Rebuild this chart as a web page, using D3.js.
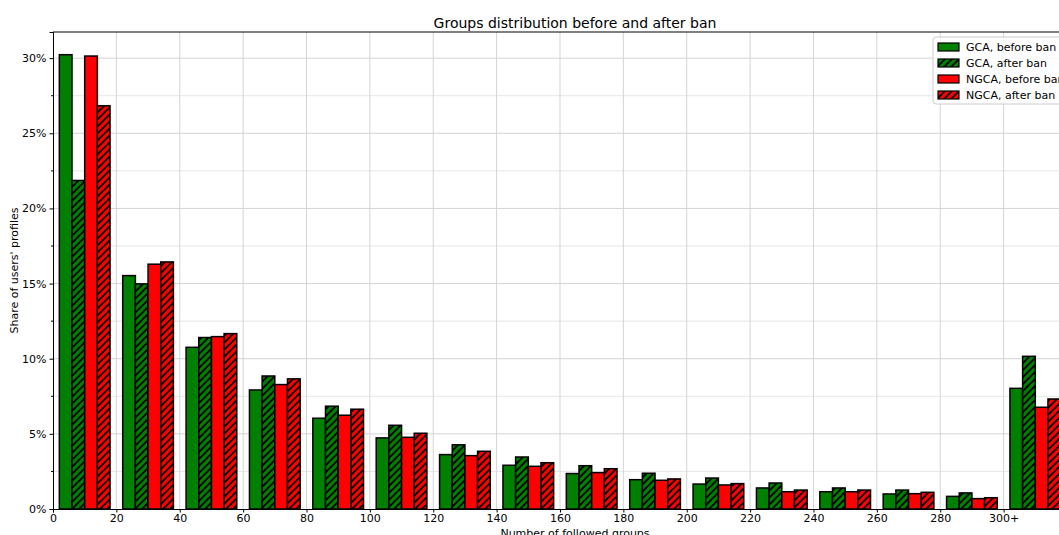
<!DOCTYPE html>
<html>
<head>
<meta charset="utf-8">
<script src="https://cdn.jsdelivr.net/npm/d3@7"></script>
<style>
  body { margin: 0; background: #fff; }
  svg { display: block; font-family: "DejaVu Sans", sans-serif; }
</style>
</head>
<body>
<div id="container"></div>
<script>
// bin starts (number of followed groups), last one is "300+"
const binStarts = [0, 20, 40, 60, 80, 100, 120, 140, 160, 180, 200, 220, 240, 260, 280, 300];
const tickLabels = ["0", "20", "40", "60", "80", "100", "120", "140", "160", "180", "200", "220", "240", "260", "280", "300+"];
const seriesNames = ["GCA, before ban", "GCA, after ban", "NGCA, before ban", "NGCA, after ban"];

// share of users' profiles, %
const gcaBefore = [30.23, 15.53, 10.76, 7.92, 6.04, 4.73, 3.62, 2.91, 2.36, 1.95, 1.66, 1.40, 1.15, 1.00, 0.84, 8.03];
const gcaAfter = [21.86, 14.98, 11.41, 8.85, 6.84, 5.57, 4.27, 3.46, 2.88, 2.38, 2.06, 1.73, 1.40, 1.26, 1.07, 10.16];
const ngcaBefore = [30.14, 16.29, 11.47, 8.28, 6.24, 4.77, 3.55, 2.84, 2.42, 1.91, 1.60, 1.15, 1.15, 1.02, 0.69, 6.77];
const ngcaAfter = [26.83, 16.44, 11.67, 8.66, 6.64, 5.04, 3.84, 3.08, 2.68, 2.00, 1.69, 1.26, 1.26, 1.11, 0.75, 7.32];

const series = [gcaBefore, gcaAfter, ngcaBefore, ngcaAfter];
const fills = ["#008000", "url(#hatchGreen)", "#ff0000", "url(#hatchRed)"];

const width = 1059, height = 535;
const margin = {left: 53, top: 32, bottom: 26};
const axRight = 1105;

const x = d3.scaleLinear().domain([0, 332]).range([margin.left, axRight]);
const y = d3.scaleLinear().domain([0, 31.74]).range([height - margin.bottom, margin.top]);

const svg = d3.select("#container").append("svg")
  .attr("width", width)
  .attr("height", height);

const defs = svg.append("defs");
[["hatchGreen", "#008000"], ["hatchRed", "#ff0000"]].forEach(([id, c]) => {
  const p = defs.append("pattern")
    .attr("id", id)
    .attr("patternUnits", "userSpaceOnUse")
    .attr("width", 7)
    .attr("height", 7);
  p.append("rect").attr("width", 7).attr("height", 7).attr("fill", c);
  p.append("path")
    .attr("d", "M-1,1 l2,-2 M0,7 l7,-7 M6,8 l2,-2")
    .attr("stroke", "#000")
    .attr("stroke-width", 1.8);
});

const clip = defs.append("clipPath").attr("id", "axClip");
clip.append("rect")
  .attr("x", margin.left).attr("y", margin.top)
  .attr("width", axRight - margin.left).attr("height", y(0) - margin.top);

// grid
const grid = svg.append("g");
const minorY = d3.range(2.5, 31, 5);
grid.selectAll(".minor")
  .data(minorY)
  .join("line")
  .attr("x1", margin.left).attr("x2", axRight)
  .attr("y1", d => y(d)).attr("y2", d => y(d))
  .attr("stroke", "#e6e6e6").attr("stroke-width", 1);
grid.selectAll(".majorY")
  .data(d3.range(5, 31, 5))
  .join("line")
  .attr("x1", margin.left).attr("x2", axRight)
  .attr("y1", d => y(d)).attr("y2", d => y(d))
  .attr("stroke", "#d4d4d4").attr("stroke-width", 1);
grid.selectAll(".majorX")
  .data(binStarts.slice(1))
  .join("line")
  .attr("x1", d => x(d)).attr("x2", d => x(d))
  .attr("y1", margin.top).attr("y2", y(0))
  .attr("stroke", "#d4d4d4").attr("stroke-width", 1);

// bars
const bars = svg.append("g").attr("clip-path", "url(#axClip)");
series.forEach((vals, s) => {
  bars.append("g")
    .selectAll("rect")
    .data(vals.map((v, i) => ({start: binStarts[i], v})))
    .join("rect")
    .attr("x", d => x(d.start + 2 + 4 * s))
    .attr("width", d => x(d.start + 6 + 4 * s) - x(d.start + 2 + 4 * s))
    .attr("y", d => y(d.v))
    .attr("height", d => y(0) - y(d.v))
    .attr("fill", fills[s])
    .attr("stroke", "#000")
    .attr("stroke-width", 1.5);
});

// axes
const xAxis = d3.axisBottom(x)
  .tickValues(binStarts)
  .tickFormat((d, i) => tickLabels[i])
  .tickSize(3.5)
  .tickPadding(2);
const xg = svg.append("g")
  .attr("transform", `translate(0,${y(0)})`)
  .call(xAxis);
xg.select(".domain").attr("stroke", "#000").attr("stroke-width", 1);

const yAxis = d3.axisLeft(y)
  .tickValues(d3.range(0, 31, 5))
  .tickFormat(d => d + "%")
  .tickSize(3.5)
  .tickPadding(3);
const yg = svg.append("g")
  .attr("transform", `translate(${margin.left},0)`)
  .call(yAxis);
yg.select(".domain").attr("stroke", "#000").attr("stroke-width", 1);
yg.selectAll(".minorTick")
  .data(minorY)
  .join("line")
  .attr("x1", -2).attr("x2", 0)
  .attr("y1", d => y(d)).attr("y2", d => y(d))
  .attr("stroke", "#000");

[xg, yg].forEach(g => g.selectAll("text")
  .attr("font-family", "DejaVu Sans")
  .attr("font-size", 11)
  .attr("fill", "#000"));

// top spine
svg.append("line")
  .attr("x1", margin.left).attr("x2", axRight)
  .attr("y1", margin.top).attr("y2", margin.top)
  .attr("stroke", "#000").attr("stroke-width", 1);

// title & labels
svg.append("text")
  .attr("x", 575).attr("y", 28)
  .attr("text-anchor", "middle")
  .attr("font-size", 14)
  .text("Groups distribution before and after ban");

svg.append("text")
  .attr("x", 575).attr("y", 537)
  .attr("text-anchor", "middle")
  .attr("font-size", 11)
  .text("Number of followed groups");

svg.append("text")
  .attr("transform", `translate(18,${(margin.top + y(0)) / 2}) rotate(-90)`)
  .attr("text-anchor", "middle")
  .attr("font-size", 11)
  .text("Share of users' profiles");

// legend
const legend = svg.append("g").attr("transform", "translate(933,37)");
legend.append("rect")
  .attr("width", 140).attr("height", 67)
  .attr("rx", 3)
  .attr("fill", "#fff").attr("fill-opacity", 0.8)
  .attr("stroke", "#cccccc");
seriesNames.forEach((name, i) => {
  const row = legend.append("g").attr("transform", `translate(5,${6 + i * 16})`);
  row.append("rect")
    .attr("width", 21).attr("height", 8)
    .attr("fill", fills[i])
    .attr("stroke", "#000").attr("stroke-width", 1.2);
  row.append("text")
    .attr("x", 28).attr("y", 8)
    .attr("font-size", 11)
    .text(name);
});
</script>
</body>
</html>
